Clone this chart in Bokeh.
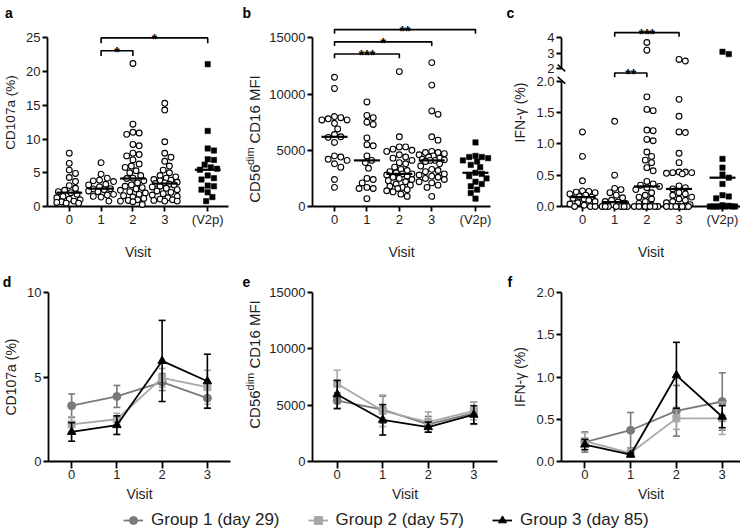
import numpy as np
from bokeh.plotting import figure
from bokeh.layouts import column, row
from bokeh.models import Range1d, FixedTicker, Legend, LegendItem
from bokeh.core.properties import value
from bokeh.embed import file_html
from bokeh.resources import INLINE

FONT = "Liberation Sans"
INK = "#1e1e1e"

# ---------------- data ----------------
visit_labels = ["0", "1", "2", "3", "(V2p)"]

# a: CD107a (%)
a_v0 = [7.9, 6.4, 5.4, 4.9, 4.3, 3.7, 3.1, 2.7, 2.4, 2.2, 2.05, 1.8, 1.5, 1.3, 1.1, 1.0, 0.8, 0.7, 0.6, 0.5, 0.5]
a_v1 = [6.5, 4.8, 4.2, 3.9, 3.8, 3.7, 3.3, 3.2, 2.9, 2.65, 2.6, 2.5, 2.3, 2.2, 1.8, 1.7, 1.5, 1.4, 0.8]
a_v2 = [21.2, 12.2, 11.0, 10.9, 10.7, 9.2, 9.0, 7.9, 7.7, 7.5, 6.9, 6.3, 6.0, 5.8, 5.3, 5.0, 4.6, 4.2, 4.15,
        3.8, 3.5, 3.2, 3.0, 2.8, 2.6, 2.4, 2.2, 2.0, 1.8, 1.6, 1.4, 1.2, 1.0, 0.9, 0.8, 0.7, 0.3]
a_v3 = [15.3, 14.3, 9.6, 7.9, 7.3, 6.7, 6.0, 5.4, 5.0, 4.6, 4.4, 4.2, 4.0, 3.9, 3.8, 3.6, 3.5, 3.4, 3.3,
        3.2, 3.0, 2.9, 2.7, 2.5, 2.3, 2.1, 1.9, 1.7, 1.5, 1.3, 1.1, 1.0, 0.9, 0.8, 0.8]
a_v2p = [21.1, 11.2, 8.6, 8.3, 7.0, 6.9, 6.2, 5.8, 5.6, 5.45, 4.6, 4.2, 4.0, 3.1, 3.0, 2.5, 2.1, 1.4, 0.8]
a_center = [2.05, 2.65, 4.15, 3.4, 5.45]
a_sig = [(1, 2, "*"), (1, 4, "*")]

# b: CD56dim CD16 MFI
b_v0 = [11500, 10500, 8000, 7900, 7800, 7700, 7700, 7400, 6900, 6400, 6200, 6150, 5700, 4500, 4400,
        4200, 4100, 3800, 3500, 2400, 1700]
b_v1 = [9300, 8100, 7900, 7500, 7300, 6100, 5500, 5400, 4500, 4100, 3900, 3400, 2500, 2400, 2100,
        1700, 1600, 1600, 700]
b_v2 = [12000, 6200, 5300, 5300, 5100, 5000, 4900, 4600, 4400, 4300, 4100, 3900, 3800, 3500, 3300,
        3200, 3100, 3000, 2900, 2900, 2800, 2700, 2600, 2500, 2400, 2300, 2200, 2000, 1900, 1800,
        1700, 1600, 1500, 1400, 1300, 1100, 900]
b_v3 = [12800, 10800, 8500, 8200, 6200, 5900, 4900, 4800, 4800, 4700, 4600, 4500, 4400, 4300, 4200,
        4150, 4100, 4100, 4000, 3800, 3600, 3300, 3200, 3100, 2900, 2800, 2700, 2600, 2500, 2400,
        2200, 2100, 1900, 1700, 900]
b_v2p = [5700, 4500, 4400, 4400, 4300, 4100, 4000, 3700, 3500, 3000, 2900, 2700, 2500, 2200, 2000,
         1800, 1500, 1200, 700]
b_center = [6200, 4100, 2900, 4100, 3000]
b_sig = [(0, 2, "***"), (0, 3, "*"), (0, 4, "**")]

# c: IFN-gamma (%)
c_v0 = [1.19, 0.80, 0.41, 0.25, 0.24, 0.23, 0.22, 0.20, 0.18, 0.16, 0.15, 0.13, 0.12, 0.10, 0.08,
        0.06, 0.04, 0.02, 0.0, 0.0, 0.0]
c_v1 = [1.36, 0.50, 0.29, 0.27, 0.22, 0.18, 0.14, 0.10, 0.08, 0.07, 0.05, 0.03, 0.0, 0.0, 0.0, 0.0,
        0.0, 0.0, 0.0]
c_v2 = [3.7, 3.2, 1.75, 1.55, 1.53, 1.22, 1.21, 1.07, 1.05, 0.87, 0.80, 0.74, 0.70, 0.62, 0.57, 0.40,
        0.36, 0.34, 0.32, 0.30, 0.27, 0.22, 0.18, 0.15, 0.12, 0.08, 0.05, 0.02, 0.0, 0.0, 0.0, 0.0,
        0.0, 0.0, 0.0, 0.0, 0.0]
c_v3 = [2.6, 2.5, 1.71, 1.44, 1.19, 1.18, 0.85, 0.70, 0.55, 0.55, 0.54, 0.54, 0.53, 0.52, 0.33, 0.30,
        0.28, 0.22, 0.20, 0.18, 0.15, 0.12, 0.10, 0.08, 0.06, 0.03, 0.0, 0.0, 0.0, 0.0, 0.0, 0.0, 0.0]
c_v2p = [3.1, 2.95, 0.76, 0.62, 0.51, 0.46, 0.36, 0.18, 0.16, 0.13, 0.02, 0.01, 0.0, 0.0, 0.0, 0.0,
         0.0, 0.0, 0.0]
c_center = [0.15, 0.07, 0.32, 0.28, 0.46]
c_sig = [(1, 2, "**"), (1, 3, "***")]
c_lower_ticks = [0.0, 0.5, 1.0, 1.5, 2.0]
c_lower_labels = ["0.0", "0.5", "1.0", "1.5", "2.0"]
c_upper_ticks = [2, 3, 4]

# d/e/f: group means +/- SEM per visit
line_visits = [0, 1, 2, 3]
group_labels = ["Group 1 (day 29)", "Group 2 (day 57)", "Group 3 (day 85)"]

d_g1 = [3.3, 3.85, 4.7, 3.75];  d_g1_sem = [0.7, 0.65, 0.5, 0.6]
d_g2 = [2.2, 2.5, 4.95, 4.4];   d_g2_sem = [0.45, 0.35, 0.55, 1.0]
d_g3 = [1.75, 2.15, 5.95, 4.75]; d_g3_sem = [0.55, 0.55, 2.4, 1.6]

e_g1 = [5400, 4600, 3300, 4300]; e_g1_sem = [700, 1200, 700, 1000]
e_g2 = [6900, 4500, 3500, 4500]; e_g2_sem = [1200, 1400, 900, 800]
e_g3 = [5950, 3700, 3050, 4150]; e_g3_sem = [1250, 1350, 450, 800]

f_g1 = [0.23, 0.37, 0.60, 0.71]; f_g1_sem = [0.12, 0.21, 0.30, 0.34]
f_g2 = [0.24, 0.10, 0.51, 0.51]; f_g2_sem = [0.10, 0.03, 0.13, 0.19]
f_g3 = [0.20, 0.08, 1.02, 0.53]; f_g3_sem = [0.06, 0.02, 0.39, 0.13]

# ---------------- styling / geometry ----------------
CAT = [0, 1, 2, 3, 4.35]
G_COLORS = ["#7a7a7a", "#a8a8a8", "#000000"]
G_MARKERS = ["circle", "square", "triangle"]
G_SIZES = [8, 7, 8.5]
AXW = 1.8

TOP_H, T1, B1 = 262, 18, 53
BOT_H, T2, B2 = 242, 30, 43


class Panel:
    def __init__(self, w, h, L, R, T, B, xr, yr, x0_page, y0_page):
        p = figure(width=w, height=h, x_range=Range1d(*xr), y_range=Range1d(*yr),
                   output_backend="svg", toolbar_location=None,
                   min_border_left=L, min_border_right=R, min_border_top=T, min_border_bottom=B,
                   background_fill_color="white", border_fill_color="white")
        p.outline_line_color = None
        p.xgrid.visible = False
        p.ygrid.visible = False
        for ax in (p.xaxis[0], p.yaxis[0]):
            ax.axis_line_width = AXW
            ax.axis_line_color = "black"
            ax.major_tick_line_width = AXW
            ax.major_tick_line_color = "black"
            ax.major_tick_in = 0
            ax.major_tick_out = 5
            ax.minor_tick_in = 0
            ax.minor_tick_out = 0
            ax.major_label_text_font = FONT
            ax.major_label_text_font_size = "13px"
            ax.major_label_text_color = INK
            ax.major_label_standoff = 2
            ax.axis_label_text_font = FONT
            ax.axis_label_text_font_size = "14px"
            ax.axis_label_text_font_style = "normal"
            ax.axis_label_text_color = INK
            ax.axis_label_standoff = 5
        self.p = p
        self.sx = (w - L - R) / (xr[1] - xr[0])
        self.sy = (h - T - B) / (yr[1] - yr[0])
        self.fl = x0_page + L          # frame left, page px
        self.fb = y0_page + h - B      # frame bottom, page px

    def at(self, px, py):
        """page pixel -> data coordinates of this panel"""
        return (self.p.x_range.start + (px - self.fl) / self.sx,
                self.p.y_range.start + (self.fb - py) / self.sy)

    def text(self, px, py, txt, size, bold=False, angle=0.0, align="left", baseline="alphabetic"):
        x, y = self.at(px, py)
        self.p.text([x], [y], text=[txt], angle=angle, text_font=value(FONT),
                    text_font_size=value(f"{size}px"),
                    text_font_style=value("bold" if bold else "normal"),
                    text_color="black" if bold else INK, text_align=align,
                    text_baseline=baseline, level="overlay")


def set_ticks(ax, ticks, labels):
    ax.ticker = FixedTicker(ticks=list(ticks))
    ax.major_label_overrides = {t: l for t, l in zip(ticks, labels)}


def swarm(py, d, wmax):
    py = np.asarray(py, float)
    order = np.argsort(-py, kind="stable")
    steps = np.arange(d / 4.0, wmax + 1e-9, d / 4.0)
    cands = [0.0]
    for s in steps:
        cands += [s, -s]
    px_p, py_p = [], []
    out = np.zeros(len(py))
    for i in order:
        best, best_md = 0.0, -1.0
        for c in cands:
            if px_p:
                md = float(np.min(np.hypot(np.array(px_p) - c, np.array(py_p) - py[i])))
            else:
                md = np.inf
            if md >= d:
                best = c
                break
            if md > best_md + 1e-9:
                best, best_md = c, md
        out[i] = best
        px_p.append(best)
        py_p.append(py[i])
    return out


def scatter_panel(P, groups, centers, sig, sig_up_px, leg_px, tf=lambda v: v):
    p, sx, sy = P.p, P.sx, P.sy
    for i, vals in enumerate(groups):
        u = tf(np.asarray(vals, float))
        offs = swarm(u * sy, 6.3, 13.5) / sx
        xs = CAT[i] + offs
        if i < 4:
            p.scatter(xs, u, marker="circle", size=5.8, fill_color="white", line_color="black",
                      line_width=1.1, level="overlay")
        else:
            p.scatter(xs, u, marker="square", size=5.4, fill_color="black", line_color="black",
                      line_width=0.5, level="overlay")
    cu = tf(np.asarray(centers, float))
    hw = 13.0 / sx
    cx = np.asarray(CAT, float)
    p.segment(cx - hw, cu, cx + hw, cu, line_color="black", line_width=2.2, level="overlay")
    for (i, j, s), up in zip(sig, sig_up_px):
        lv = up / sy
        leg = leg_px / sy
        p.multi_line([[CAT[i], CAT[i], CAT[j], CAT[j]]], [[lv - leg, lv, lv, lv - leg]],
                     line_color="black", line_width=1.6, level="overlay")
        p.text([(CAT[i] + CAT[j]) / 2], [lv - 1.5 / sy], text=[s], text_align="center",
               text_baseline="alphabetic", text_font=value(FONT), text_font_size=value("14px"),
               text_font_style=value("bold"), text_color="black", level="overlay")


def line_panel(P, means, sems):
    p = P.p
    x = np.asarray(line_visits, float)
    cap = 3.5 / P.sx
    for m, s, col, mk, sz in zip(means, sems, G_COLORS, G_MARKERS, G_SIZES):
        m = np.asarray(m, float)
        s = np.asarray(s, float)
        p.segment(x, m - s, x, m + s, line_color=col, line_width=1.6, level="overlay")
        p.segment(x - cap, m + s, x + cap, m + s, line_color=col, line_width=1.6, level="overlay")
        p.segment(x - cap, m - s, x + cap, m - s, line_color=col, line_width=1.6, level="overlay")
        p.line(x, m, line_color=col, line_width=1.8, level="overlay")
        p.scatter(x, m, marker=mk, size=sz, fill_color=col, line_color=col, level="overlay")


def arial_w(s, size):
    W = {"C": 722, "D": 722, "5": 556, "6": 556, "1": 556, "d": 556, "i": 222, "m": 833,
         " ": 278, "M": 833, "F": 611, "I": 278}
    return sum(W.get(ch, 556) for ch in s) * size / 1000.0


def cd56_label(P, px, py_center):
    # (text, font px, shift left in px, advance after text in px)
    parts = [("CD56", 15, 0, arial_w("CD56", 15)),
             ("dim", 11, -5, arial_w("dim", 11) + arial_w(" ", 15)),
             ("CD16 MFI", 15, 0, arial_w("CD16 MFI", 15))]
    total = sum(a for _, _, _, a in parts)
    py = py_center + total / 2
    for t, s, dx, adv in parts:
        P.text(px + dx, py, t, s, angle=np.pi / 2, align="left", baseline="middle")
        py -= adv


def top_x_axis(p):
    set_ticks(p.xaxis[0], CAT, visit_labels)
    p.xaxis[0].axis_label = "Visit"
    p.xaxis[0].major_label_standoff = 0
    p.xaxis[0].axis_label_standoff = 14


def bottom_x_axis(p):
    set_ticks(p.xaxis[0], line_visits, ["0", "1", "2", "3"])
    p.xaxis[0].axis_label = "Visit"
    p.xaxis[0].major_tick_out = 7
    p.xaxis[0].major_label_standoff = 1
    p.xaxis[0].axis_label_standoff = 4


# ---------------- panel a ----------------
A = Panel(240, TOP_H, 45, 12, T1, B1, (-0.684, 5.003), (0, 27.875), 0, 0)
top_x_axis(A.p)
set_ticks(A.p.yaxis[0], [0, 5, 10, 15, 20, 25], ["0", "5", "10", "15", "20", "25"])
A.p.yaxis[0].bounds = (0, 25)
A.p.yaxis[0].axis_label = "CD107a (%)"
A.p.yaxis[0].axis_label_text_font_size = "13.5px"
scatter_panel(A, [a_v0, a_v1, a_v2, a_v3, a_v2p], a_center, a_sig, [158.3, 171.3], 5.5)
A.text(2, 12.7, "a", 14, bold=True)

# ---------------- panel b ----------------
B = Panel(252, TOP_H, 72, 2, T1, B1, (-0.679, 4.813), (0, 16725), 240, 0)
top_x_axis(B.p)
set_ticks(B.p.yaxis[0], [0, 5000, 10000, 15000], ["0", "5000", "10000", "15000"])
B.p.yaxis[0].bounds = (0, 15000)
scatter_panel(B, [b_v0, b_v1, b_v2, b_v3, b_v2p], b_center, b_sig, [155, 167.3, 179.7], 4.3)
cd56_label(B, 254, 141)
B.text(242, 12.7, "b", 14, bold=True)

# ---------------- panel c (broken axis) ----------------
GAP, K = 0.1995, 0.246
u_top = 2 + GAP + (c_upper_ticks[-1] - 2) * K


def c_tf(v):
    v = np.asarray(v, float)
    return np.where(v <= 2, v, 2 + GAP + (v - 2) * K)


C = Panel(248, TOP_H, 69, 0, T1, B1, (-0.653, 4.91), (0, 3.0008), 492, 0)
top_x_axis(C.p)
ct = [round(float(t), 4) for t in c_lower_ticks] + \
     [round(2 + GAP + (t - 2) * K, 4) for t in c_upper_ticks]
set_ticks(C.p.yaxis[0], ct, c_lower_labels + [str(t) for t in c_upper_ticks])
C.p.yaxis[0].axis_line_color = None
C.p.yaxis[0].axis_label = "IFN-\u03b3 (%)"
x0c = C.p.x_range.start
C.p.segment([x0c, x0c], [0, 2 + GAP], [x0c, x0c], [2, u_top], line_color="black", line_width=AXW,
            level="overlay")
ddx, ddy = 3.8 / C.sx, 3.4 / C.sy
for yc in (2 + 1.0 / C.sy, 2 + GAP + 0.7 / C.sy):
    C.p.segment([x0c - ddx], [yc + ddy], [x0c + ddx], [yc - ddy], line_color="black",
                line_width=1.5, level="overlay")
scatter_panel(C, [c_v0, c_v1, c_v2, c_v3, c_v2p], c_center, c_sig, [135.7, 176.7], 4.3, c_tf)
C.text(506, 12.7, "c", 14, bold=True)

# ---------------- bottom row ----------------
D = Panel(240, BOT_H, 47, 10, T2, B2, (-0.511, 3.511), (0, 10), 0, TOP_H)
bottom_x_axis(D.p)
set_ticks(D.p.yaxis[0], [0, 5, 10], ["0", "5", "10"])
D.p.yaxis[0].axis_label = "CD107a (%)"
line_panel(D, [d_g1, d_g2, d_g3], [d_g1_sem, d_g2_sem, d_g3_sem])
D.text(1, 281, "d", 14, bold=True)

E = Panel(260, BOT_H, 72, 3, T2, B2, (-0.5425, 3.521), (0, 15000), 240, TOP_H)
bottom_x_axis(E.p)
set_ticks(E.p.yaxis[0], [0, 5000, 10000, 15000], ["0", "5000", "10000", "15000"])
line_panel(E, [e_g1, e_g2, e_g3], [e_g1_sem, e_g2_sem, e_g3_sem])
cd56_label(E, 254, 364)
E.text(242, 281, "e", 14, bold=True)

F = Panel(240, BOT_H, 61, 0, T2, B2, (-0.509, 3.399), (0, 2.0), 500, TOP_H)
bottom_x_axis(F.p)
set_ticks(F.p.yaxis[0], [0, 0.5, 1, 1.5, 2], ["0.0", "0.5", "1.0", "1.5", "2.0"])
F.p.yaxis[0].axis_label = "IFN-\u03b3 (%)"
line_panel(F, [f_g1, f_g2, f_g3], [f_g1_sem, f_g2_sem, f_g3_sem])
F.text(507, 281, "f", 14, bold=True)

# ---------------- legend strip ----------------
lg = figure(width=740, height=26, x_range=Range1d(0, 1), y_range=Range1d(100, 101),
            output_backend="svg", toolbar_location=None, x_axis_location=None,
            y_axis_location=None, min_border=0, min_border_left=0, min_border_right=0,
            min_border_top=0, min_border_bottom=0)
lg.outline_line_color = None
lg.xgrid.visible = False
lg.ygrid.visible = False
items = []
for lab, m, col, mk in zip(group_labels, [d_g1, d_g2, d_g3], G_COLORS, G_MARKERS):
    lr = lg.line(line_visits, m, line_color=col, line_width=1.8)
    sr = lg.scatter(line_visits, m, marker=mk, fill_color=col, line_color=col)
    items.append(LegendItem(label=lab, renderers=[lr, sr]))
leg = Legend(items=items, location=(123, 0), orientation="horizontal", glyph_width=20,
             glyph_height=20, label_standoff=8, spacing=28, padding=0, margin=0,
             border_line_color=None, background_fill_alpha=0, label_text_font=FONT,
             label_text_font_size="17px", label_text_color=INK)
lg.add_layout(leg)

layout = column(row(A.p, B.p, C.p), row(D.p, E.p, F.p), lg)
open("out.html", "w").write(file_html(layout, INLINE))
